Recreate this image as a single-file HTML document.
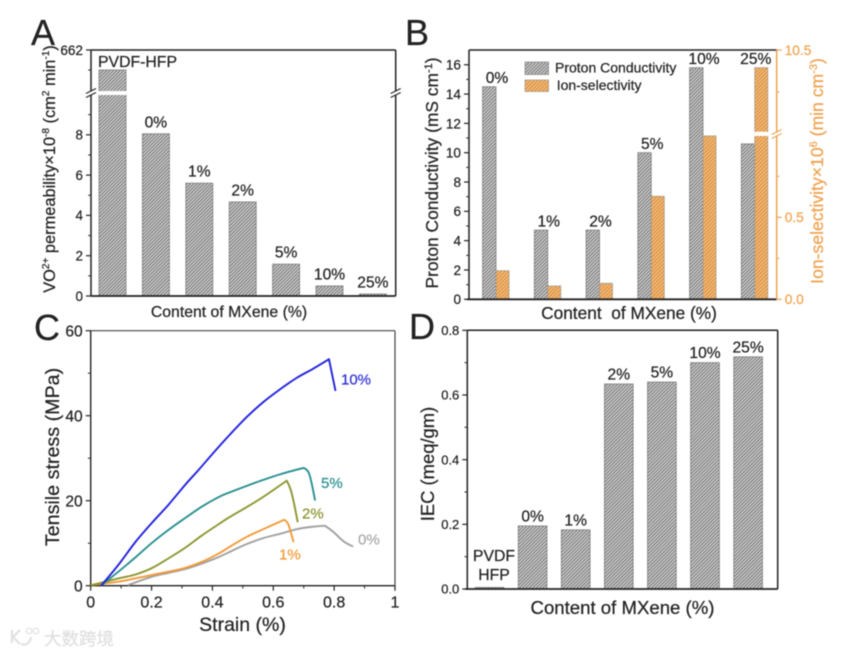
<!DOCTYPE html>
<html lang="en">
<head>
<meta charset="utf-8">
<title>MXene membrane properties</title>
<style>
html,body{margin:0;padding:0;background:#fff;width:862px;height:655px;overflow:hidden}
svg{display:block;filter:blur(.5px)}
text{font-family:"Liberation Sans","Noto Sans CJK SC",sans-serif;color:#222;fill:currentColor;stroke:currentColor;stroke-width:.22}
</style>
</head>
<body>
<svg id="figure" width="862" height="655" viewBox="0 0 862 655" xmlns="http://www.w3.org/2000/svg">
<defs>
<pattern id="hatch-gray" patternUnits="userSpaceOnUse" width="2.4" height="2.4" patternTransform="rotate(-45)">
<rect width="2.4" height="2.4" fill="#d2d2d2"/><rect width="2.4" height="1" fill="#6e6e6e"/>
</pattern>
<pattern id="hatch-orange" patternUnits="userSpaceOnUse" width="2.6" height="2.6" patternTransform="rotate(-45)">
<rect width="2.6" height="2.6" fill="#f6bd7c"/><rect width="2.6" height="1" fill="#d08838"/>
</pattern>
</defs>

<text x="31" y="45" font-size="36">A</text>
<text x="405" y="45" font-size="36">B</text>
<text x="34" y="340" font-size="36">C</text>
<text x="409" y="339" font-size="36">D</text>

<text x="229" y="317" font-size="15.8" text-anchor="middle">Content of MXene (%)</text>
<text transform="translate(55,169) rotate(-90)" font-size="16.4" text-anchor="middle">VO<tspan font-size="10" baseline-shift="6">2+</tspan> permeability×10<tspan font-size="10" baseline-shift="6">-8</tspan> (cm<tspan font-size="10" baseline-shift="6">2</tspan> min<tspan font-size="10" baseline-shift="6">-1</tspan>)</text>

<text x="629" y="319" font-size="17.3" text-anchor="middle" xml:space="preserve">Content  of MXene (%)</text>
<text transform="translate(438,173) rotate(-90)" font-size="17.4" text-anchor="middle">Proton Conductivity (mS cm<tspan font-size="11" baseline-shift="6">-1</tspan>)</text>
<text transform="translate(823,171) rotate(-90)" font-size="17.6" text-anchor="middle" style="color:#f0a24e">Ion-selectivity×10<tspan font-size="11" baseline-shift="6">6</tspan> (min cm<tspan font-size="11" baseline-shift="6">-3</tspan>)</text>

<rect x="525" y="62" width="23.5" height="12.5" fill="url(#hatch-gray)" stroke="#8a8a8a" stroke-width=".8"/>
<rect x="525" y="80" width="23.5" height="11.5" fill="url(#hatch-orange)" stroke="#a89a88" stroke-width=".8"/>
<text x="555" y="72.7" font-size="14">Proton Conductivity</text>
<text x="556.7" y="90" font-size="14">Ion-selectivity</text>

<text x="242.5" y="631" font-size="19.5" text-anchor="middle">Strain (%)</text>
<text transform="translate(59,457) rotate(-90)" font-size="19.7" text-anchor="middle">Tensile stress (MPa)</text>
<text x="341" y="384.3" font-size="15" style="color:#2f2fd6">10%</text>
<text x="321" y="488" font-size="15" style="color:#2a8f8f">5%</text>
<text x="302" y="518.3" font-size="15" style="color:#8c9630">2%</text>
<text x="279" y="559.3" font-size="15" style="color:#f39a38">1%</text>
<text x="358" y="544.3" font-size="15" style="color:#a8a8a8">0%</text>

<text x="622.5" y="614" font-size="18.6" text-anchor="middle">Content of MXene (%)</text>
<text transform="translate(434,464) rotate(-90)" font-size="18.4" text-anchor="middle">IEC (meq/gm)</text>
<text x="494" y="561" font-size="15.8" text-anchor="middle">PVDF</text>
<text x="494" y="580" font-size="15.8" text-anchor="middle">HFP</text>

<g opacity=".9">
<path d="M12 630v13M20 630l-7 7 7 7M21 644c5 2 9-1 10-7" fill="none" stroke="#dedede" stroke-width="2.2"/>
<circle cx="29" cy="631" r="2.8" fill="none" stroke="#dedede" stroke-width="1.2"/>
<circle cx="36" cy="631" r="2.8" fill="none" stroke="#dedede" stroke-width="1.2"/>
<text x="44" y="645" font-size="17.5" style="color:#dcdcdc;font-family:'Liberation Sans','Noto Sans CJK SC',sans-serif">大数跨境</text>
</g>
<g id="marks"></g>
</svg>

<script>
// Panel A: VO2+ permeability
const aCategories = ['PVDF-HFP', '0%', '1%', '2%', '5%', '10%', '25%'];
const aValues = [388, 8.05, 5.6, 4.67, 1.58, 0.5, 0.1];
const aTicks = [0, 2, 4, 6, 8];
const aMinorTicks = [1, 3, 5, 7, 9];

// Panel B: proton conductivity and ion selectivity
const bCategories = ['0%', '1%', '2%', '5%', '10%', '25%'];
const bConductivity = [14.5, 4.72, 4.72, 10, 15.8, 10.6];
const bSelectivity = [0.174, 0.081, 0.0975, 0.628, 0.996, 8.5];
const bLeftTicks = [0, 2, 4, 6, 8, 10, 12, 14, 16];
const bLeftMinorTicks = [1, 3, 5, 7, 9, 11, 13, 15];
const bRightTicks = [0, 0.5, 10.5];
const bRightMinorTicks = [0.25, 0.75, 5.75];

// Panel C: stress-strain curves
const strain10 = [0.036, 0.091, 0.146, 0.2, 0.255, 0.31, 0.354, 0.405, 0.458, 0.513, 0.567, 0.622, 0.677, 0.732, 0.783, 0.804];
const stress10 = [0.16, 4.9, 10.2, 14.7, 19, 23.7, 27.2, 31.4, 35.6, 39.7, 43.2, 46.2, 48.9, 51.1, 53.3, 46];
const strain5 = [0.036, 0.091, 0.146, 0.2, 0.255, 0.31, 0.365, 0.419, 0.458, 0.513, 0.567, 0.622, 0.699, 0.718, 0.737];
const stress5 = [0.16, 3.3, 6.6, 10, 13.1, 15.9, 18.6, 20.8, 22, 23.5, 24.9, 26.2, 27.7, 26.3, 20.2];
const strain2 = [0.003, 0.091, 0.146, 0.2, 0.255, 0.31, 0.365, 0.419, 0.458, 0.513, 0.567, 0.644, 0.66, 0.68];
const stress2 = [0.16, 1.7, 2.6, 4.1, 6.4, 8.9, 11.8, 14.4, 16.2, 18.5, 20.9, 24.7, 21.9, 15.1];
const strain1 = [0.003, 0.091, 0.146, 0.2, 0.255, 0.31, 0.365, 0.419, 0.458, 0.513, 0.567, 0.635, 0.649, 0.666];
const stress1 = [0.16, 0.94, 1.7, 2.5, 3.3, 4.2, 5.6, 7.5, 9.2, 11.5, 13.3, 15.5, 14.5, 10.4];
const strain0 = [0.124, 0.2, 0.255, 0.31, 0.365, 0.419, 0.458, 0.513, 0.567, 0.622, 0.677, 0.732, 0.77, 0.797, 0.83, 0.86];
const stress0 = [0.16, 2.1, 3, 3.9, 5.2, 6.7, 8, 9.8, 11.2, 12.2, 13.3, 13.9, 14.1, 12.7, 10.5, 9.3];
const cXTicks = [0, 0.2, 0.4, 0.6, 0.8, 1];
const cXMinorTicks = [0.1, 0.3, 0.5, 0.7, 0.9];
const cYTicks = [0, 20, 40, 60];
const cYMinorTicks = [10, 30, 50];

// Panel D: ion exchange capacity
const dCategories = ['', '0%', '1%', '2%', '5%', '10%', '25%'];
const dValues = [0.005, 0.195, 0.183, 0.634, 0.64, 0.7, 0.718];
const dTicks = [0, 0.2, 0.4, 0.6, 0.8];
const dMinorTicks = [0.1, 0.3, 0.5, 0.7];

const SVGNS = 'http://www.w3.org/2000/svg';
const root = document.getElementById('marks');
function mk(tag, attrs) {
  const el = document.createElementNS(SVGNS, tag);
  for (const k in attrs) el.setAttribute(k, attrs[k]);
  root.appendChild(el);
  return el;
}
function line(name, x1, y1, x2, y2, color, width) {
  const el = mk('line', {x1, y1, x2, y2, stroke: color, 'stroke-width': width});
  
  
  return el;
}
function label(name, str, x, y, size, anchor, color) {
  const el = mk('text', {x, y, 'font-size': size, 'text-anchor': anchor});
  el.style.color = color;
  el.textContent = str;
  
  
  return el;
}
function bar(name, x, w, yTop, yBase, fill, stroke) {
  const el = mk('rect', {x, y: yTop, width: w, height: Math.max(0, yBase - yTop), fill, stroke, 'stroke-width': 0.8});
  
  
  return el;
}
function gap(name, x, y, w, h) {
  const el = mk('rect', {x, y, width: w, height: h, fill: '#fff'});
  
  
  return el;
}
function breakMark(name, x, y, color) {
  gap(name + '-gap', x - 3, y - 1.5, 6, 3);
  line(name + '-stroke-1', x - 5, y + 0.5, x + 5, y - 4.5, color, 1.1);
  line(name + '-stroke-2', x - 5, y + 4.5, x + 5, y - 0.5, color, 1.1);
}
function yAxisTicks(prefix, ticks, minor, scale, x, dir, fmt, size, color) {
  ticks.forEach(function (t) {
    const y = scale(t);
    line(prefix + '-tick-' + t, x, y, x + dir * 5, y, color, 1.2);
    const lx = x + dir * 8;
    label(prefix + '-tick-label-' + t, fmt(t), lx, y + size * 0.36, size, dir < 0 ? 'end' : 'start', color);
  });
  minor.forEach(function (t) {
    const y = scale(t);
    line(prefix + '-minor-tick-' + t, x, y, x + dir * 2.8, y, color, 1);
  });
}
const dark = '#222';
const hatchGray = 'url(#hatch-gray)';
const hatchOrange = 'url(#hatch-orange)';

/* ---------- Panel A ---------- */
const aBase = 296, aLeft = 91, aRight = 395.7, aTop = 50, aBreakY = 93;
function yA(v) { return v <= 10 ? aBase - v * 20.15 : 91 - (v - 100) * 0.073; }
function xA(i) { return 112.5 + i * 43.4; }
const aBarW = 27;
aValues.forEach(function (v, i) {
  const top = yA(v);
  bar('panel-a-bar-' + i, xA(i) - aBarW / 2, aBarW, top, aBase, hatchGray, '#7d7d7d');
  if (v > 10) gap('panel-a-bar-break-' + i, xA(i) - aBarW / 2 - 1, 91, aBarW + 2, 4);
  if (i === 0) {
    label('panel-a-bar-label-' + i, aCategories[i], 98, top - 3, 15.8, 'start', dark);
  } else {
    label('panel-a-bar-label-' + i, aCategories[i], xA(i), top - 6.5, 15.6, 'middle', dark);
  }
});
line('panel-a-frame-top', aLeft, aTop, aRight, aTop, dark, 1.5);
line('panel-a-frame-bottom', aLeft, aBase, aRight, aBase, dark, 1.8);
line('panel-a-frame-left', aLeft, aTop, aLeft, aBase, dark, 1.5);
line('panel-a-frame-right', aRight, aTop, aRight, aBase, dark, 1.5);
yAxisTicks('panel-a', aTicks, aMinorTicks, yA, aLeft, -1, String, 13.4, dark);
line('panel-a-tick-662', aLeft, yA(662), aLeft - 5, yA(662), dark, 1.2);
label('panel-a-tick-label-662', '662', 83, 54.8, 13.6, 'end', dark);
line('panel-a-minor-tick-upper', aLeft, 70, aLeft - 2.8, 70, dark, 1);
breakMark('panel-a-break-left', aLeft, aBreakY, dark);
breakMark('panel-a-break-right', aRight, aBreakY, dark);

/* ---------- Panel B ---------- */
const bBase = 299.3, bLeft = 469, bRight = 776.7, bTop = 50, bBreakY = 134, orange = '#f0a24e';
function yBL(v) { return bBase - v * 14.66; }
function yBR(v) { return v <= 1 ? bBase - v * 164 : 134 - (v - 1) * 84 / 9.5; }
function xB(i) { return 496 + i * 51.75; }
const bBarW = 13.4;
bCategories.forEach(function (c, i) {
  const yG = yBL(bConductivity[i]);
  const yO = yBR(bSelectivity[i]);
  bar('panel-b-conductivity-bar-' + i, xB(i) - bBarW, bBarW, yG, bBase, hatchGray, '#7d7d7d');
  bar('panel-b-selectivity-bar-' + i, xB(i), bBarW - 0.4, yO, bBase, hatchOrange, '#a89a88');
  if (bSelectivity[i] > 1) gap('panel-b-selectivity-break-' + i, xB(i) - 0.5, 131.7, bBarW + 1, 4.3);
  label('panel-b-bar-label-' + i, c, xB(i) + 1, Math.min(yG, yO) - 3.6, 15.6, 'middle', dark);
});
line('panel-b-frame-top', bLeft, bTop, bRight, bTop, dark, 1.5);
line('panel-b-frame-bottom', bLeft - 2, bBase, bRight, bBase, dark, 1.8);
line('panel-b-frame-left', bLeft, bTop, bLeft, bBase, dark, 1.5);
line('panel-b-axis-right', bRight, bTop, bRight, bBase, orange, 1.5);
yAxisTicks('panel-b-left', bLeftTicks, bLeftMinorTicks, yBL, bLeft, -1, String, 13.6, dark);
yAxisTicks('panel-b-right', bRightTicks, bRightMinorTicks, yBR, bRight, 1, function (t) { return t.toFixed(1); }, 13.7, orange);
breakMark('panel-b-break-right', bRight, bBreakY, orange);

/* ---------- Panel C ---------- */
const cLeft = 90.7, cRight = 395, cTop = 330.7, cBase = 585.7;
function xC(v) { return cLeft + v * (cRight - cLeft); }
function yC(v) { return cBase - v * (cBase - cTop) / 60; }
line('panel-c-frame-top', cLeft, cTop, cRight, cTop, '#444', 1.2);
line('panel-c-frame-right', cRight, cTop, cRight, cBase, '#444', 1.2);
line('panel-c-frame-left', cLeft, cTop, cLeft, cBase, dark, 1.4);
line('panel-c-frame-bottom', cLeft, cBase, cRight, cBase, dark, 1.4);
yAxisTicks('panel-c-y', cYTicks, cYMinorTicks, yC, cLeft, -1, String, 15.6, dark);
cXTicks.forEach(function (t) {
  line('panel-c-x-tick-' + t, xC(t), cBase, xC(t), cBase + 5, dark, 1.2);
  label('panel-c-x-tick-label-' + t, String(t), xC(t), 607.7, 16, 'middle', dark);
});
cXMinorTicks.forEach(function (t) {
  line('panel-c-x-minor-tick-' + t, xC(t), cBase, xC(t), cBase + 2.8, dark, 1);
});
// Smooth path through the points, keeping sharp corners at fracture peaks.
function smoothPath(pts) {
  const tan = pts.map(function (p, i) {
    if (i === 0 || i === pts.length - 1) return [0, 0];
    const a = pts[i - 1], b = pts[i + 1];
    const a1 = Math.atan2(p[1] - a[1], p[0] - a[0]);
    const a2 = Math.atan2(b[1] - p[1], b[0] - p[0]);
    if (Math.abs(a1 - a2) > 0.6) return [0, 0];
    return [(b[0] - a[0]) / 6, (b[1] - a[1]) / 6];
  });
  let d = 'M' + pts[0][0].toFixed(2) + ' ' + pts[0][1].toFixed(2);
  for (let i = 1; i < pts.length; i++) {
    const p0 = pts[i - 1], p1 = pts[i];
    d += 'C' + (p0[0] + tan[i - 1][0]).toFixed(2) + ' ' + (p0[1] + tan[i - 1][1]).toFixed(2) +
      ' ' + (p1[0] - tan[i][0]).toFixed(2) + ' ' + (p1[1] - tan[i][1]).toFixed(2) +
      ' ' + p1[0].toFixed(2) + ' ' + p1[1].toFixed(2);
  }
  return d;
}
function curve(name, xs, ys, color) {
  const pts = xs.map(function (x, i) { return [xC(x), yC(ys[i])]; });
  const el = mk('path', {d: smoothPath(pts), fill: 'none', stroke: color, 'stroke-width': 1.9, 'stroke-linejoin': 'round', 'stroke-linecap': 'round'});
  
  
}
curve('curve-0-percent', strain0, stress0, '#a0a0a0');
curve('curve-1-percent', strain1, stress1, '#f39a38');
curve('curve-2-percent', strain2, stress2, '#8c9630');
curve('curve-5-percent', strain5, stress5, '#2a8f8f');
curve('curve-10-percent', strain10, stress10, '#2222dd');

/* ---------- Panel D ---------- */
const dLeft = 467.3, dRight = 777.7, dTop = 330.3, dBase = 589;
function yD(v) { return dBase - v * (dBase - dTop) / 0.8; }
function xD(i) { return 489.5 + i * 43.1; }
const dBarW = 28.7;
dValues.forEach(function (v, i) {
  bar('panel-d-bar-' + i, xD(i) - dBarW / 2, dBarW, yD(v), dBase, hatchGray, '#7d7d7d');
  if (dCategories[i]) label('panel-d-bar-label-' + i, dCategories[i], xD(i), yD(v) - 4.4, 15.6, 'middle', dark);
});
line('panel-d-frame-top', dLeft, dTop, dRight, dTop, dark, 1.5);
line('panel-d-frame-bottom', dLeft - 2, dBase, dRight, dBase, dark, 1.8);
line('panel-d-frame-left', dLeft, dTop, dLeft, dBase, dark, 1.5);
line('panel-d-frame-right', dRight, dTop, dRight, dBase, dark, 1.5);
yAxisTicks('panel-d', dTicks, dMinorTicks, yD, dLeft, -1, function (t) { return t.toFixed(1); }, 13, dark);
</script>
</body>
</html>
